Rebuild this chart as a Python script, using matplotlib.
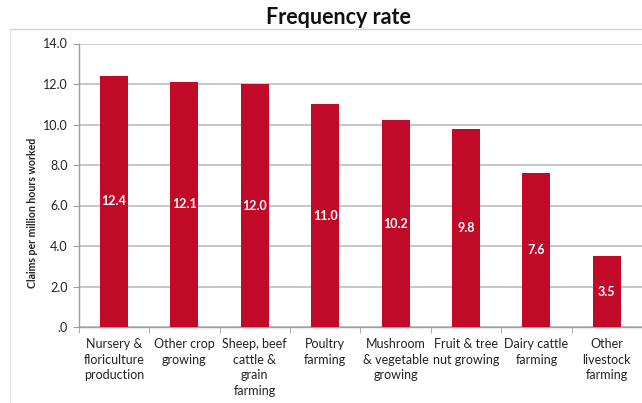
import matplotlib
matplotlib.use("Agg")
import matplotlib.pyplot as plt
from matplotlib.lines import Line2D

categories = ["Nursery &\nfloriculture\nproduction", "Other crop\ngrowing",
              "Sheep, beef\ncattle &\ngrain\nfarming", "Poultry\nfarming",
              "Mushroom\n& vegetable\ngrowing", "Fruit & tree\nnut growing",
              "Dairy cattle\nfarming", "Other\nlivestock\nfarming"]
values = [12.4, 12.1, 12.0, 11.0, 10.2, 9.8, 7.6, 3.5]
yticks = [0, 2, 4, 6, 8, 10, 12, 14]
ytick_labels = [".0", "2.0", "4.0", "6.0", "8.0", "10.0", "12.0", "14.0"]

plt.rcParams['font.family'] = ['Lato', 'DejaVu Sans']

W, H = 642, 403
fig = plt.figure(figsize=(W / 100, H / 100), dpi=100)
ax = fig.add_axes([78.8 / W, 1 - 327 / H, (642 - 78.8) / W, (327 - 43.5) / H])

bar_color = "#C00A28"
x = list(range(len(categories)))
bars = ax.bar(x, values, width=0.4, color=bar_color, zorder=3)
for xi, v in zip(x, values):
    ax.text(xi, v / 2, f"{v:.1f}", ha="center", va="center", color="white",
            fontsize=9, fontweight="bold", zorder=4)

ax.set_xlim(-0.5, len(categories) - 0.5)
ax.set_ylim(0, 14)
ax.set_yticks(yticks)
ax.set_yticklabels(ytick_labels, fontsize=9, color="#222222")
ax.yaxis.grid(True, color="#BDBDBD", linewidth=1.2, zorder=0)
ax.set_axisbelow(True)

ax.set_xticks(x)
ax.set_xticklabels(categories, fontsize=9, color="#222222", linespacing=1.35)
ax.tick_params(axis="x", length=0, pad=8)
# boundary ticks between categories
ax.set_xticks([i - 0.5 for i in range(len(categories) + 1)], minor=True)
ax.tick_params(axis="x", which="minor", length=4, color="#9E9E9E", direction="out")
ax.tick_params(axis="y", length=4, color="#9E9E9E", pad=4)

for s in ["top", "right"]:
    ax.spines[s].set_visible(False)
for s in ["left", "bottom"]:
    ax.spines[s].set_color("#9E9E9E")
    ax.spines[s].set_linewidth(1.0)

fig.text(33 / W, 1 - 213 / H, "Claims per million hours worked", rotation=90,
         ha="center", va="center", fontsize=7.6, fontweight="bold", color="#222222")

fig.text(338 / W, 1 - 18 / H, "Frequency rate", ha="center", va="center",
         fontsize=15.5, fontweight="bold", color="#111111")

# chart area border (light)
fig.add_artist(Line2D([10 / W, 1], [1 - 29 / H, 1 - 29 / H], transform=fig.transFigure,
                      color="#D4D4D4", linewidth=1))
fig.add_artist(Line2D([10 / W, 10 / W], [0, 1 - 29 / H], transform=fig.transFigure,
                      color="#E4E4E4", linewidth=1))

fig.savefig("out.png", dpi=100)
